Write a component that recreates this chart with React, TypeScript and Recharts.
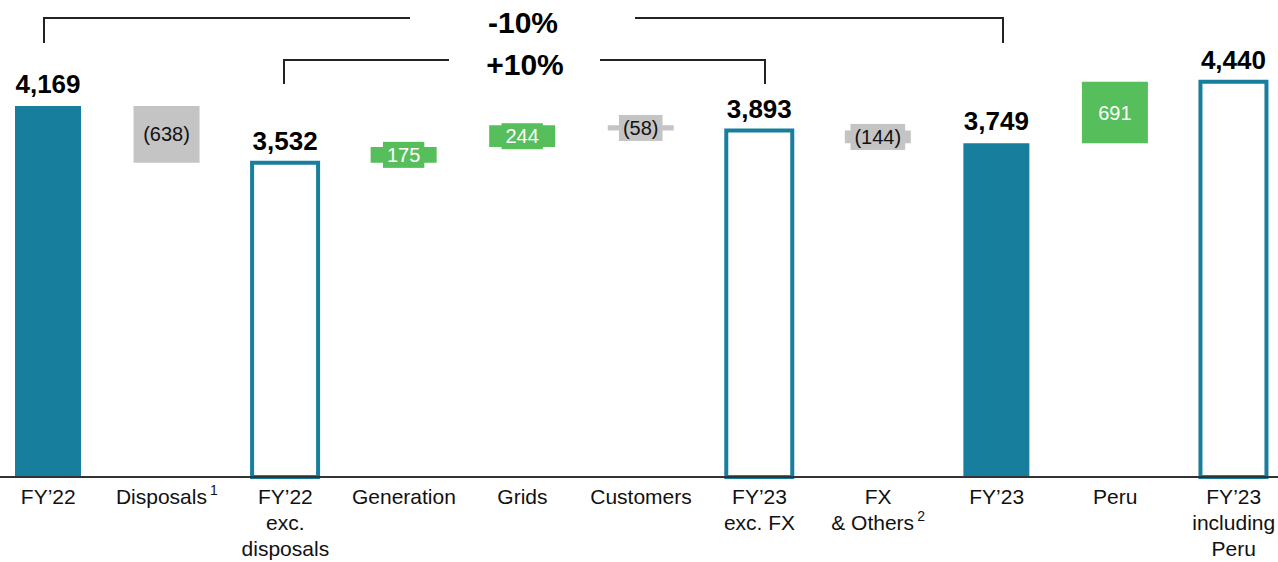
import { BarChart, Bar, XAxis, YAxis, Cell, LabelList } from 'recharts';

// waterfall steps, values in the order shown
const categories = [
  'FY’22', 'Disposals', 'FY’22\nexc.\ndisposals', 'Generation', 'Grids', 'Customers',
  'FY’23\nexc. FX', 'FX\n& Others', 'FY’23', 'Peru', 'FY’23\nincluding\nPeru',
];
const superscripts = ['', '1', '', '', '', '', '', '2', '', '', ''];
const values = [4169, -638, 3532, 175, 244, -58, 3893, -144, 3749, 691, 4440];
// total = solid bar from zero, subtotal = outlined bar from zero, delta = floating step
const kinds = ['total', 'delta', 'subtotal', 'delta', 'delta', 'delta', 'subtotal', 'delta', 'total', 'delta', 'subtotal'];

const TEAL = '#187e9e';
const GREY = '#c4c4c4';
const GREEN = '#56be5b';
const FONT = '"Liberation Sans", Arial, sans-serif';

let running = 0;
const data = categories.map((name, i) => {
  const v = values[i];
  let range: [number, number];
  if (kinds[i] === 'delta') {
    const next = running + v;
    range = [Math.min(running, next), Math.max(running, next)];
    running = next;
  } else {
    range = [0, v];
    running = v;
  }
  return { name, value: v, kind: kinds[i], range };
});

const fmt = (v: number) => {
  const s = Math.abs(v).toLocaleString('en-US');
  return v < 0 ? '(' + s + ')' : s;
};

function ValueLabel(props: any) {
  const { x, y, width, height, index } = props;
  const d = data[index];
  if (!d) return null;
  const top = Math.min(y, y + height);
  const h = Math.abs(height);
  const cx = x + width / 2;
  if (d.kind !== 'delta') {
    return (
      <text x={cx} y={top - 13} textAnchor="middle" fontFamily={FONT} fontSize={26} fontWeight="bold" fill="#000">
        {fmt(d.value)}
      </text>
    );
  }
  const text = fmt(d.value);
  const color = d.value < 0 ? GREY : GREEN;
  const txtColor = d.value < 0 ? '#111' : '#fff';
  const cy = top + h / 2;
  let box = null;
  if (h < 24) {
    let w = 0;
    for (const c of text) w += c === '(' || c === ')' ? 0.333 : 0.556;
    const bw = w * 20 + 8;
    box = <rect x={cx - bw / 2} y={cy - 13} width={bw} height={26} fill={color} />;
  }
  return (
    <g>
      {box}
      <text x={cx} y={cy + 7} textAnchor="middle" fontFamily={FONT} fontSize={20} fill={txtColor}>
        {text}
      </text>
    </g>
  );
}

function CategoryTick(props: any) {
  const { x, y, payload } = props;
  const idx = categories.indexOf(payload.value);
  const lines = String(payload.value).split('\n');
  const sup = superscripts[idx] || '';
  return (
    <g>
      {lines.map((ln, i) => (
        <text key={i} x={x} y={y + 27 + i * 26} textAnchor="middle" fontFamily={FONT} fontSize={21} fill="#111">
          {ln}
          {sup && i === lines.length - 1 ? (
            <tspan fontSize={14} dx={3} dy={-9}>{sup}</tspan>
          ) : null}
        </text>
      ))}
    </g>
  );
}

function Brackets() {
  const st = { stroke: '#222', strokeWidth: 2, fill: 'none' };
  return (
    <svg width={1278} height={100} style={{ position: 'absolute', left: 0, top: 0, pointerEvents: 'none' }}>
      <polyline points="44,43 44,18 410,18" {...st} />
      <polyline points="635,18 1003,18 1003,43" {...st} />
      <text x={523} y={33} textAnchor="middle" fontFamily={FONT} fontSize={30} fontWeight="bold">-10%</text>
      <polyline points="284,84 284,60 449,60" {...st} />
      <polyline points="600,60 765,60 765,84" {...st} />
      <text x={525} y={75} textAnchor="middle" fontFamily={FONT} fontSize={30} fontWeight="bold">+10%</text>
    </svg>
  );
}

export default function App() {
  return (
    <div style={{ position: 'absolute', left: 0, top: 0, width: 1278, height: 562, overflow: 'hidden', background: '#fff' }}>
      <div style={{ position: 'absolute', left: -11, top: 0 }}>
        <BarChart width={1304} height={562} data={data} margin={{ top: 32, right: 0, bottom: 0, left: 0 }}>
          <XAxis
            dataKey="name"
            height={85}
            interval={0}
            tickLine={false}
            tickSize={0}
            tickMargin={0}
            axisLine={{ stroke: '#333', strokeWidth: 2 }}
            tick={<CategoryTick />}
          />
          <YAxis hide domain={[0, 5000]} />
          <Bar dataKey="range" barSize={66} isAnimationActive={false}>
            {data.map((d, i) => (
              <Cell
                key={i}
                fill={d.kind === 'total' ? TEAL : d.kind === 'subtotal' ? '#fff' : d.value < 0 ? GREY : GREEN}
                stroke={d.kind === 'subtotal' ? TEAL : 'none'}
                strokeWidth={d.kind === 'subtotal' ? 4 : 0}
              />
            ))}
            <LabelList dataKey="value" content={<ValueLabel />} />
          </Bar>
        </BarChart>
      </div>
      <Brackets />
    </div>
  );
}
